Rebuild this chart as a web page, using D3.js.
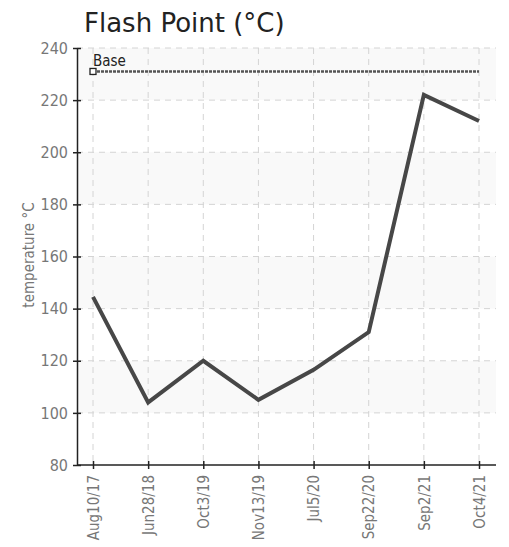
<!DOCTYPE html>
<html><head><meta charset="utf-8">
<script src="https://cdn.jsdelivr.net/npm/d3@7"></script>
<style>body{margin:0;background:#fff}</style>
</head><body>
<svg id="c" width="509" height="547"></svg>
<script>
const categories = ["Aug10/17","Jun28/18","Oct3/19","Nov13/19","Jul5/20","Sep22/20","Sep2/21","Oct4/21"];
const values = [144.5,104,120,105,116.5,131,222,212];
const baseValue = 231;
const yTicks = [80,100,120,140,160,180,200,220,240];

(function(){
const svg = d3.select("#c");
const pl = 77, pr = 496, pt = 48, pb = 465;
const x = d3.scalePoint().domain(categories).range([93, 479]);
const y = d3.scaleLinear().domain([80,240]).range([pb, pt]);
const cond = "'DejaVu Sans Condensed', 'DejaVu Sans', sans-serif";

// bands
for (let i = 0; i < yTicks.length - 1; i++) {
  if ((yTicks.length - 2 - i) % 2 === 0) {
    svg.append("rect").attr("x", pl).attr("width", pr - pl)
      .attr("y", y(yTicks[i+1])).attr("height", y(yTicks[i]) - y(yTicks[i+1]))
      .attr("fill", "#f9f9f9");
  }
}
// grid
svg.append("g").selectAll("line").data(yTicks.slice(1)).join("line")
  .attr("x1", pl).attr("x2", pr).attr("y1", d => y(d)).attr("y2", d => y(d))
  .attr("stroke", "#d4d4d4").attr("stroke-dasharray", "6,5");
svg.append("g").selectAll("line").data(categories).join("line")
  .attr("x1", d => x(d)).attr("x2", d => x(d)).attr("y1", pt).attr("y2", pb)
  .attr("stroke", "#d4d4d4").attr("stroke-dasharray", "6,5");

// axes
const ya = svg.append("g").attr("transform", `translate(${pl},0)`)
  .call(d3.axisLeft(y).tickValues(yTicks).tickSize(4).tickSizeOuter(0).tickPadding(5));
ya.select(".domain").attr("stroke", "#222").attr("stroke-width", 1.5);
ya.selectAll(".tick line").attr("stroke", "#222").attr("stroke-width", 1.5).attr("x2", 4).attr("x1", -4);
ya.selectAll("text").attr("fill", "#777").style("font-family", cond).style("font-size", "16px");

const xa = svg.append("g").attr("transform", `translate(0,${pb})`)
  .call(d3.axisBottom(x).tickSize(4).tickSizeOuter(0));
xa.select(".domain").attr("d", `M${pl},0H${pr}`).attr("stroke", "#222").attr("stroke-width", 1.5);
xa.selectAll(".tick line").attr("stroke", "#222").attr("stroke-width", 1.5).attr("y1", -4).attr("y2", 4);
xa.selectAll("text").attr("fill", "#777").style("font-family", cond).style("font-size", "15px")
  .attr("transform", "rotate(-90)").attr("text-anchor", "end").attr("dy", "0.35em").attr("x", -10).attr("y", 0);

// base line
svg.append("line").attr("x1", x(categories[0])).attr("x2", x(categories[categories.length-1]))
  .attr("y1", y(baseValue)).attr("y2", y(baseValue))
  .attr("stroke", "#555").attr("stroke-width", 2.5).attr("stroke-dasharray", "3,1");
svg.append("rect").attr("x", x(categories[0]) - 3).attr("y", y(baseValue) - 3)
  .attr("width", 6).attr("height", 6).attr("fill", "#fff").attr("stroke", "#222").attr("stroke-width", 1.3);
svg.append("text").attr("x", x(categories[0])).attr("y", y(baseValue) - 5)
  .text("Base").attr("fill", "#222").style("font-family", cond).style("font-size", "15px");

// data line
svg.append("path").datum(values)
  .attr("d", d3.line().x((d, i) => x(categories[i])).y(d => y(d)))
  .attr("fill", "none").attr("stroke", "#474747").attr("stroke-width", 4).attr("stroke-linejoin", "miter");

// title
svg.append("text").attr("x", 84).attr("y", 32).text("Flash Point (°C)")
  .attr("fill", "#222").style("font-family", "'DejaVu Sans', sans-serif").style("font-size", "26px");
// y label
svg.append("text").attr("transform", `translate(34,255) rotate(-90)`)
  .attr("text-anchor", "middle").text("temperature °C").attr("fill", "#777")
  .style("font-family", cond).style("font-size", "15px");
})();
</script>
</body></html>
